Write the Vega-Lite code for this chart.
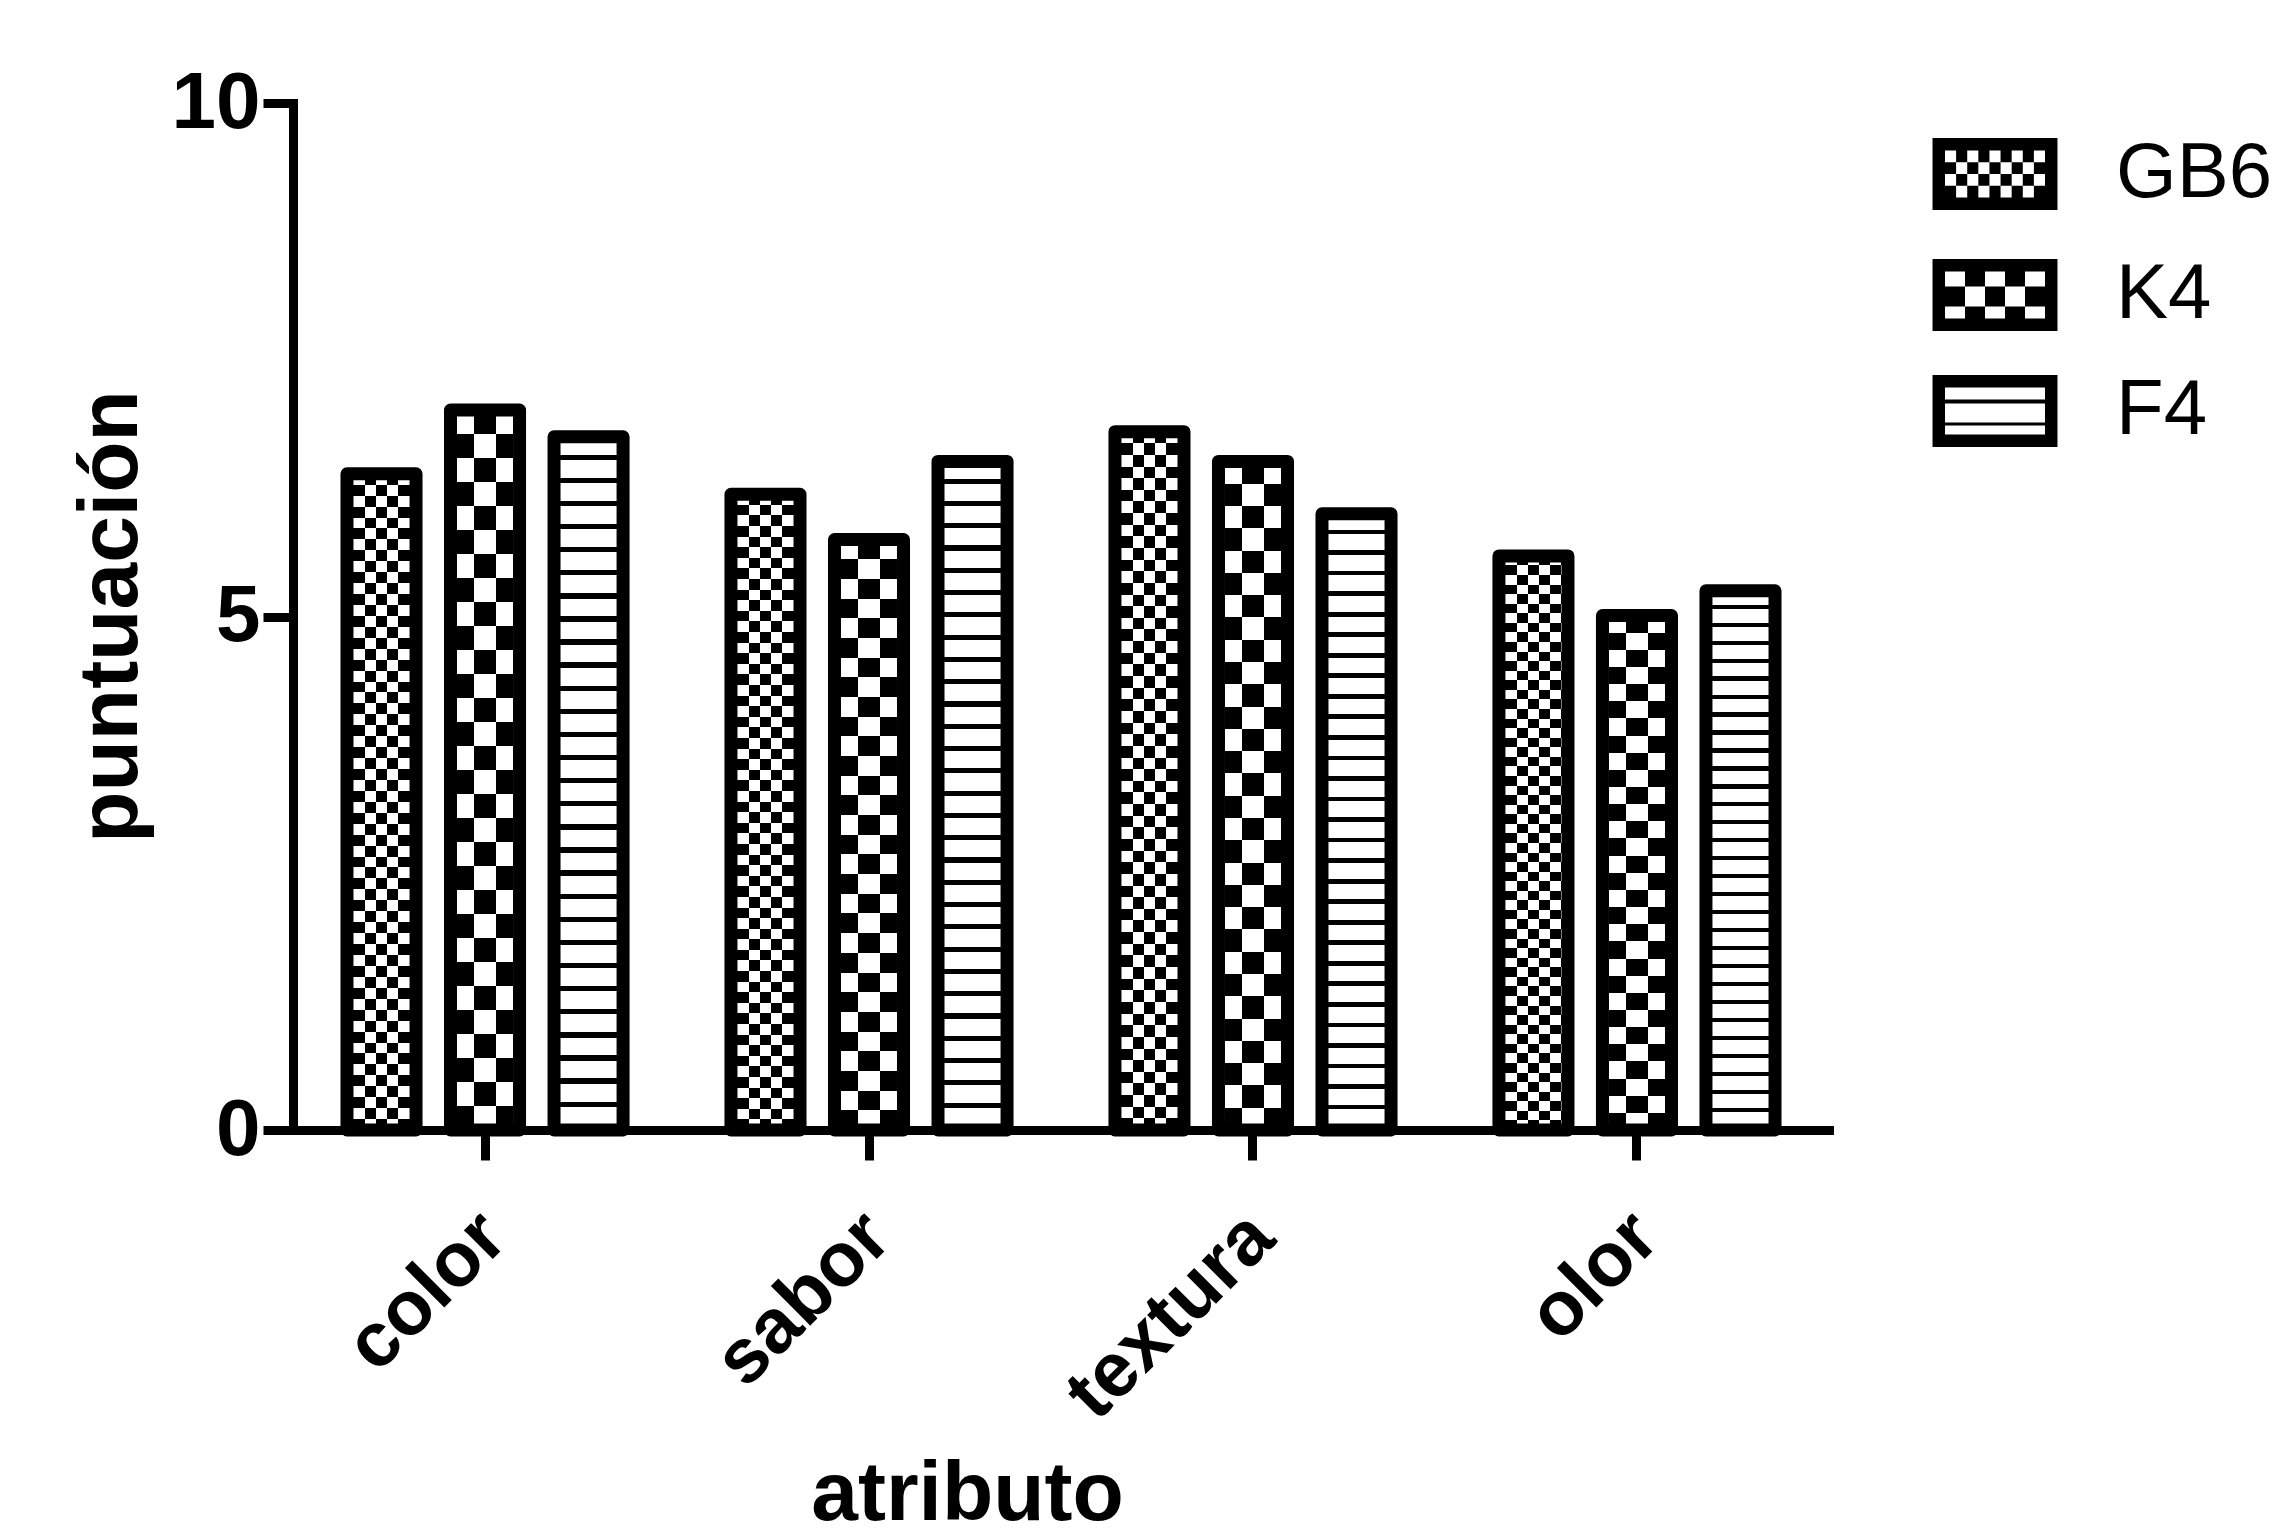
{
"$schema": "https://vega.github.io/schema/vega-lite/v6.json",
"width": 1536,
"height": 1027,
"autosize": {"type": "none"},
"padding": {"left": 293, "top": 103, "right": 451, "bottom": 406},
"background": "#ffffff",
"config": {"view": {"stroke": null}, "font": "Liberation Sans"},
"data": {"values": [
{"atributo":"color","serie":"GB6","puntuacion":6.39},{"atributo":"color","serie":"K4","puntuacion":7.01},{"atributo":"color","serie":"F4","puntuacion":6.75},
{"atributo":"sabor","serie":"GB6","puntuacion":6.19},{"atributo":"sabor","serie":"K4","puntuacion":5.75},{"atributo":"sabor","serie":"F4","puntuacion":6.51},
{"atributo":"textura","serie":"GB6","puntuacion":6.80},{"atributo":"textura","serie":"K4","puntuacion":6.51},{"atributo":"textura","serie":"F4","puntuacion":6.00},
{"atributo":"olor","serie":"GB6","puntuacion":5.59},{"atributo":"olor","serie":"K4","puntuacion":5.01},{"atributo":"olor","serie":"F4","puntuacion":5.25}
]},
"encoding": {
"x": {"field": "atributo", "type": "nominal", "sort": ["color","sabor","textura","olor"],
 "scale": {"paddingInner": 0.281, "paddingOuter": 0.1406},
 "axis": {"title": "atributo", "labelAngle": -45, "labelAlign": "right", "labelBaseline": "top", "labelFont": "Liberation Sans", "labelFontWeight": "bold", "labelFontSize": 77, "labelColor": "#000", "labelPadding": 38, "labelOffset": -18, "labelLimit": 0, "labelOverlap": false,
  "domainColor": "#000", "domainWidth": 9, "domainCap": "square", "tickColor": "#000", "tickWidth": 9, "tickSize": 30, "grid": false, "zindex": 1,
  "titleFont": "Liberation Sans", "titleFontWeight": "bold", "titleFontSize": 84, "titleColor": "#000", "titleX": 674, "titleY": 389, "titleAlign": "center", "titleBaseline": "alphabetic", "titleLimit": 0}},
"xOffset": {"field": "serie", "type": "nominal", "sort": ["GB6","K4","F4"], "scale": {"paddingInner": 0.333, "paddingOuter": 0}},
"y": {"field": "puntuacion", "type": "quantitative", "scale": {"domain": [0,10], "nice": false},
 "axis": {"title": "puntuación", "values": [0,5,10], "labelFont": "Liberation Sans", "labelFontWeight": "bold", "labelFontSize": 80, "labelColor": "#000", "labelPadding": 3,
  "domainColor": "#000", "domainWidth": 9, "domainCap": "square", "tickColor": "#000", "tickWidth": 9, "tickSize": 30, "grid": false, "zindex": 1,
  "titleFont": "Liberation Sans", "titleFontWeight": "bold", "titleFontSize": 84, "titleColor": "#000", "titleAngle": 270, "titleX": -157, "titleY": 513, "titleAlign": "center", "titleBaseline": "alphabetic", "titleLimit": 0}}
},
"layer": [
{"mark": {"type": "bar", "fill": "#000", "strokeWidth": 0},
 "encoding": {
  "stroke": {"field": "serie", "type": "nominal", "scale": {"domain": ["GB6","K4","F4"], "range": ["#000","#000","#000"]},
   "legend": {"title": null, "values": ["GB6"], "orient": "none", "legendX": 1647, "legendY": 16, "padding": 0,
    "symbolType": "M-1.136,-0.655H1.136V0.655H-1.136Z M-0.909,-0.427V0.427H0.909V-0.427Z M-0.707,-0.427h0.202v0.2135h-0.202z M-0.303,-0.427h0.202v0.2135h-0.202z M0.101,-0.427h0.202v0.2135h-0.202z M0.505,-0.427h0.202v0.2135h-0.202z M-0.909,-0.2135h0.202v0.2135h-0.202z M-0.505,-0.2135h0.202v0.2135h-0.202z M-0.101,-0.2135h0.202v0.2135h-0.202z M0.303,-0.2135h0.202v0.2135h-0.202z M0.707,-0.2135h0.202v0.2135h-0.202z M-0.707,0h0.202v0.2135h-0.202z M-0.303,0h0.202v0.2135h-0.202z M0.101,0h0.202v0.2135h-0.202z M0.505,0h0.202v0.2135h-0.202z M-0.909,0.2135h0.202v0.2135h-0.202z M-0.505,0.2135h0.202v0.2135h-0.202z M-0.101,0.2135h0.202v0.2135h-0.202z M0.303,0.2135h0.202v0.2135h-0.202z M0.707,0.2135h0.202v0.2135h-0.202z",
    "symbolSize": 12100, "symbolStrokeWidth": 0, "symbolFillColor": "#000",
    "labelFont": "Liberation Sans", "labelFontSize": 78, "labelColor": "#000", "labelOffset": 66, "labelLimit": 400, "labelBaseline": "middle"}},
  "strokeDash": {"field": "serie", "type": "nominal", "scale": {"domain": ["K4","F4","GB6"], "range": [[1,0],[1,0],[1,0]]},
   "legend": {"title": null, "values": ["K4"], "orient": "none", "legendX": 1647, "legendY": 137, "padding": 0,
    "symbolType": "M-1.136,-0.655H1.136V0.655H-1.136Z M-0.909,-0.427V0.427H0.909V-0.427Z M-0.5454,-0.427h0.3636v0.273h-0.3636z M0.1818,-0.427h0.3636v0.273h-0.3636z M-0.909,-0.154h0.3636v0.364h-0.3636z M-0.1818,-0.154h0.3636v0.364h-0.3636z M0.5454,-0.154h0.3636v0.364h-0.3636z M-0.5454,0.21h0.3636v0.217h-0.3636z M0.1818,0.21h0.3636v0.217h-0.3636z",
    "symbolSize": 12100, "symbolStrokeWidth": 0, "symbolFillColor": "#000",
    "labelFont": "Liberation Sans", "labelFontSize": 78, "labelColor": "#000", "labelOffset": 66, "labelLimit": 400, "labelBaseline": "middle"}},
  "opacity": {"field": "serie", "type": "nominal", "scale": {"domain": ["F4","GB6","K4"], "range": [1,1]},
   "legend": {"title": null, "values": ["F4"], "orient": "none", "legendX": 1647, "legendY": 253, "padding": 0,
    "symbolType": "M-1.136,-0.655H1.136V0.655H-1.136Z M-0.909,-0.427V0.427H0.909V-0.427Z M-0.909,-0.209H0.909V-0.136H-0.909Z M-0.909,0.209H0.909V0.264H-0.909Z",
    "symbolSize": 12100, "symbolStrokeWidth": 0, "symbolFillColor": "#000",
    "labelFont": "Liberation Sans", "labelFontSize": 78, "labelColor": "#000", "labelOffset": 66, "labelLimit": 400, "labelBaseline": "middle"}}
 }},
{"mark": {"type": "bar", "strokeWidth": 0},
 "encoding": {
  "fill": {"condition": [
   {"test": "datum.serie === 'GB6'", "value": {"gradient":"linear","x1":0,"y1":0,"x2":1,"y2":0,"stops":[{"offset":0,"color":"#000"},{"offset":0.094,"color":"#000"},{"offset":0.094,"color":"#fff"},{"offset":0.256,"color":"#fff"},{"offset":0.256,"color":"#000"},{"offset":0.419,"color":"#000"},{"offset":0.419,"color":"#fff"},{"offset":0.581,"color":"#fff"},{"offset":0.581,"color":"#000"},{"offset":0.744,"color":"#000"},{"offset":0.744,"color":"#fff"},{"offset":0.906,"color":"#fff"},{"offset":0.906,"color":"#000"},{"offset":1,"color":"#000"}]}},
   {"test": "datum.serie === 'K4'", "value": {"gradient":"linear","x1":0,"y1":0,"x2":1,"y2":0,"stops":[{"offset":0,"color":"#000"},{"offset":0.094,"color":"#000"},{"offset":0.094,"color":"#fff"},{"offset":0.34,"color":"#fff"},{"offset":0.34,"color":"#000"},{"offset":0.66,"color":"#000"},{"offset":0.66,"color":"#fff"},{"offset":0.906,"color":"#fff"},{"offset":0.906,"color":"#000"},{"offset":1,"color":"#000"}]}}
  ],
  "value": {"gradient":"linear","x1":0,"y1":0,"x2":0,"y2":1,"stops":[
{"offset":0,"color":"#fff"},{"offset":0.0256,"color":"#fff"},{"offset":0.0256,"color":"#000"},{"offset":0.0333,"color":"#000"},
{"offset":0.0333,"color":"#fff"},{"offset":0.0589,"color":"#fff"},{"offset":0.0589,"color":"#000"},{"offset":0.0667,"color":"#000"},
{"offset":0.0667,"color":"#fff"},{"offset":0.0923,"color":"#fff"},{"offset":0.0923,"color":"#000"},{"offset":0.1,"color":"#000"},
{"offset":0.1,"color":"#fff"},{"offset":0.1256,"color":"#fff"},{"offset":0.1256,"color":"#000"},{"offset":0.1333,"color":"#000"},
{"offset":0.1333,"color":"#fff"},{"offset":0.1589,"color":"#fff"},{"offset":0.1589,"color":"#000"},{"offset":0.1667,"color":"#000"},
{"offset":0.1667,"color":"#fff"},{"offset":0.1923,"color":"#fff"},{"offset":0.1923,"color":"#000"},{"offset":0.2,"color":"#000"},
{"offset":0.2,"color":"#fff"},{"offset":0.2256,"color":"#fff"},{"offset":0.2256,"color":"#000"},{"offset":0.2333,"color":"#000"},
{"offset":0.2333,"color":"#fff"},{"offset":0.2589,"color":"#fff"},{"offset":0.2589,"color":"#000"},{"offset":0.2667,"color":"#000"},
{"offset":0.2667,"color":"#fff"},{"offset":0.2923,"color":"#fff"},{"offset":0.2923,"color":"#000"},{"offset":0.3,"color":"#000"},
{"offset":0.3,"color":"#fff"},{"offset":0.3256,"color":"#fff"},{"offset":0.3256,"color":"#000"},{"offset":0.3333,"color":"#000"},
{"offset":0.3333,"color":"#fff"},{"offset":0.3589,"color":"#fff"},{"offset":0.3589,"color":"#000"},{"offset":0.3667,"color":"#000"},
{"offset":0.3667,"color":"#fff"},{"offset":0.3923,"color":"#fff"},{"offset":0.3923,"color":"#000"},{"offset":0.4,"color":"#000"},
{"offset":0.4,"color":"#fff"},{"offset":0.4256,"color":"#fff"},{"offset":0.4256,"color":"#000"},{"offset":0.4333,"color":"#000"},
{"offset":0.4333,"color":"#fff"},{"offset":0.4589,"color":"#fff"},{"offset":0.4589,"color":"#000"},{"offset":0.4667,"color":"#000"},
{"offset":0.4667,"color":"#fff"},{"offset":0.4923,"color":"#fff"},{"offset":0.4923,"color":"#000"},{"offset":0.5,"color":"#000"},
{"offset":0.5,"color":"#fff"},{"offset":0.5256,"color":"#fff"},{"offset":0.5256,"color":"#000"},{"offset":0.5333,"color":"#000"},
{"offset":0.5333,"color":"#fff"},{"offset":0.5589,"color":"#fff"},{"offset":0.5589,"color":"#000"},{"offset":0.5667,"color":"#000"},
{"offset":0.5667,"color":"#fff"},{"offset":0.5923,"color":"#fff"},{"offset":0.5923,"color":"#000"},{"offset":0.6,"color":"#000"},
{"offset":0.6,"color":"#fff"},{"offset":0.6256,"color":"#fff"},{"offset":0.6256,"color":"#000"},{"offset":0.6333,"color":"#000"},
{"offset":0.6333,"color":"#fff"},{"offset":0.6589,"color":"#fff"},{"offset":0.6589,"color":"#000"},{"offset":0.6667,"color":"#000"},
{"offset":0.6667,"color":"#fff"},{"offset":0.6923,"color":"#fff"},{"offset":0.6923,"color":"#000"},{"offset":0.7,"color":"#000"},
{"offset":0.7,"color":"#fff"},{"offset":0.7256,"color":"#fff"},{"offset":0.7256,"color":"#000"},{"offset":0.7333,"color":"#000"},
{"offset":0.7333,"color":"#fff"},{"offset":0.7589,"color":"#fff"},{"offset":0.7589,"color":"#000"},{"offset":0.7667,"color":"#000"},
{"offset":0.7667,"color":"#fff"},{"offset":0.7923,"color":"#fff"},{"offset":0.7923,"color":"#000"},{"offset":0.8,"color":"#000"},
{"offset":0.8,"color":"#fff"},{"offset":0.8256,"color":"#fff"},{"offset":0.8256,"color":"#000"},{"offset":0.8333,"color":"#000"},
{"offset":0.8333,"color":"#fff"},{"offset":0.8589,"color":"#fff"},{"offset":0.8589,"color":"#000"},{"offset":0.8667,"color":"#000"},
{"offset":0.8667,"color":"#fff"},{"offset":0.8923,"color":"#fff"},{"offset":0.8923,"color":"#000"},{"offset":0.9,"color":"#000"},
{"offset":0.9,"color":"#fff"},{"offset":0.9256,"color":"#fff"},{"offset":0.9256,"color":"#000"},{"offset":0.9333,"color":"#000"},
{"offset":0.9333,"color":"#fff"},{"offset":0.9589,"color":"#fff"},{"offset":0.9589,"color":"#000"},{"offset":0.9667,"color":"#000"},
{"offset":0.9667,"color":"#fff"},{"offset":0.9923,"color":"#fff"},{"offset":0.9923,"color":"#000"},{"offset":1,"color":"#000"}]}}
 }},
{"mark": {"type": "bar", "strokeWidth": 0, "blend": "difference"},
 "encoding": {
  "fill": {"condition": [
   {"test": "datum.serie === 'GB6'", "value": {"gradient":"linear","x1":0,"y1":0,"x2":0,"y2":1,"stops":[
{"offset":0,"color":"#000"},{"offset":0.0167,"color":"#000"},{"offset":0.0167,"color":"#fff"},{"offset":0.0333,"color":"#fff"},
{"offset":0.0333,"color":"#000"},{"offset":0.05,"color":"#000"},{"offset":0.05,"color":"#fff"},{"offset":0.0667,"color":"#fff"},
{"offset":0.0667,"color":"#000"},{"offset":0.0833,"color":"#000"},{"offset":0.0833,"color":"#fff"},{"offset":0.1,"color":"#fff"},
{"offset":0.1,"color":"#000"},{"offset":0.1167,"color":"#000"},{"offset":0.1167,"color":"#fff"},{"offset":0.1333,"color":"#fff"},
{"offset":0.1333,"color":"#000"},{"offset":0.15,"color":"#000"},{"offset":0.15,"color":"#fff"},{"offset":0.1667,"color":"#fff"},
{"offset":0.1667,"color":"#000"},{"offset":0.1833,"color":"#000"},{"offset":0.1833,"color":"#fff"},{"offset":0.2,"color":"#fff"},
{"offset":0.2,"color":"#000"},{"offset":0.2167,"color":"#000"},{"offset":0.2167,"color":"#fff"},{"offset":0.2333,"color":"#fff"},
{"offset":0.2333,"color":"#000"},{"offset":0.25,"color":"#000"},{"offset":0.25,"color":"#fff"},{"offset":0.2667,"color":"#fff"},
{"offset":0.2667,"color":"#000"},{"offset":0.2833,"color":"#000"},{"offset":0.2833,"color":"#fff"},{"offset":0.3,"color":"#fff"},
{"offset":0.3,"color":"#000"},{"offset":0.3167,"color":"#000"},{"offset":0.3167,"color":"#fff"},{"offset":0.3333,"color":"#fff"},
{"offset":0.3333,"color":"#000"},{"offset":0.35,"color":"#000"},{"offset":0.35,"color":"#fff"},{"offset":0.3667,"color":"#fff"},
{"offset":0.3667,"color":"#000"},{"offset":0.3833,"color":"#000"},{"offset":0.3833,"color":"#fff"},{"offset":0.4,"color":"#fff"},
{"offset":0.4,"color":"#000"},{"offset":0.4167,"color":"#000"},{"offset":0.4167,"color":"#fff"},{"offset":0.4333,"color":"#fff"},
{"offset":0.4333,"color":"#000"},{"offset":0.45,"color":"#000"},{"offset":0.45,"color":"#fff"},{"offset":0.4667,"color":"#fff"},
{"offset":0.4667,"color":"#000"},{"offset":0.4833,"color":"#000"},{"offset":0.4833,"color":"#fff"},{"offset":0.5,"color":"#fff"},
{"offset":0.5,"color":"#000"},{"offset":0.5167,"color":"#000"},{"offset":0.5167,"color":"#fff"},{"offset":0.5333,"color":"#fff"},
{"offset":0.5333,"color":"#000"},{"offset":0.55,"color":"#000"},{"offset":0.55,"color":"#fff"},{"offset":0.5667,"color":"#fff"},
{"offset":0.5667,"color":"#000"},{"offset":0.5833,"color":"#000"},{"offset":0.5833,"color":"#fff"},{"offset":0.6,"color":"#fff"},
{"offset":0.6,"color":"#000"},{"offset":0.6167,"color":"#000"},{"offset":0.6167,"color":"#fff"},{"offset":0.6333,"color":"#fff"},
{"offset":0.6333,"color":"#000"},{"offset":0.65,"color":"#000"},{"offset":0.65,"color":"#fff"},{"offset":0.6667,"color":"#fff"},
{"offset":0.6667,"color":"#000"},{"offset":0.6833,"color":"#000"},{"offset":0.6833,"color":"#fff"},{"offset":0.7,"color":"#fff"},
{"offset":0.7,"color":"#000"},{"offset":0.7167,"color":"#000"},{"offset":0.7167,"color":"#fff"},{"offset":0.7333,"color":"#fff"},
{"offset":0.7333,"color":"#000"},{"offset":0.75,"color":"#000"},{"offset":0.75,"color":"#fff"},{"offset":0.7667,"color":"#fff"},
{"offset":0.7667,"color":"#000"},{"offset":0.7833,"color":"#000"},{"offset":0.7833,"color":"#fff"},{"offset":0.8,"color":"#fff"},
{"offset":0.8,"color":"#000"},{"offset":0.8167,"color":"#000"},{"offset":0.8167,"color":"#fff"},{"offset":0.8333,"color":"#fff"},
{"offset":0.8333,"color":"#000"},{"offset":0.85,"color":"#000"},{"offset":0.85,"color":"#fff"},{"offset":0.8667,"color":"#fff"},
{"offset":0.8667,"color":"#000"},{"offset":0.8833,"color":"#000"},{"offset":0.8833,"color":"#fff"},{"offset":0.9,"color":"#fff"},
{"offset":0.9,"color":"#000"},{"offset":0.9167,"color":"#000"},{"offset":0.9167,"color":"#fff"},{"offset":0.9333,"color":"#fff"},
{"offset":0.9333,"color":"#000"},{"offset":0.95,"color":"#000"},{"offset":0.95,"color":"#fff"},{"offset":0.9667,"color":"#fff"},
{"offset":0.9667,"color":"#000"},{"offset":0.9833,"color":"#000"},{"offset":0.9833,"color":"#fff"},{"offset":1,"color":"#fff"}]}},
   {"test": "datum.serie === 'K4'", "value": {"gradient":"linear","x1":0,"y1":0,"x2":0,"y2":1,"stops":[
{"offset":0,"color":"#000"},{"offset":0.0333,"color":"#000"},{"offset":0.0333,"color":"#fff"},{"offset":0.0667,"color":"#fff"},
{"offset":0.0667,"color":"#000"},{"offset":0.1,"color":"#000"},{"offset":0.1,"color":"#fff"},{"offset":0.1333,"color":"#fff"},
{"offset":0.1333,"color":"#000"},{"offset":0.1667,"color":"#000"},{"offset":0.1667,"color":"#fff"},{"offset":0.2,"color":"#fff"},
{"offset":0.2,"color":"#000"},{"offset":0.2333,"color":"#000"},{"offset":0.2333,"color":"#fff"},{"offset":0.2667,"color":"#fff"},
{"offset":0.2667,"color":"#000"},{"offset":0.3,"color":"#000"},{"offset":0.3,"color":"#fff"},{"offset":0.3333,"color":"#fff"},
{"offset":0.3333,"color":"#000"},{"offset":0.3667,"color":"#000"},{"offset":0.3667,"color":"#fff"},{"offset":0.4,"color":"#fff"},
{"offset":0.4,"color":"#000"},{"offset":0.4333,"color":"#000"},{"offset":0.4333,"color":"#fff"},{"offset":0.4667,"color":"#fff"},
{"offset":0.4667,"color":"#000"},{"offset":0.5,"color":"#000"},{"offset":0.5,"color":"#fff"},{"offset":0.5333,"color":"#fff"},
{"offset":0.5333,"color":"#000"},{"offset":0.5667,"color":"#000"},{"offset":0.5667,"color":"#fff"},{"offset":0.6,"color":"#fff"},
{"offset":0.6,"color":"#000"},{"offset":0.6333,"color":"#000"},{"offset":0.6333,"color":"#fff"},{"offset":0.6667,"color":"#fff"},
{"offset":0.6667,"color":"#000"},{"offset":0.7,"color":"#000"},{"offset":0.7,"color":"#fff"},{"offset":0.7333,"color":"#fff"},
{"offset":0.7333,"color":"#000"},{"offset":0.7667,"color":"#000"},{"offset":0.7667,"color":"#fff"},{"offset":0.8,"color":"#fff"},
{"offset":0.8,"color":"#000"},{"offset":0.8333,"color":"#000"},{"offset":0.8333,"color":"#fff"},{"offset":0.8667,"color":"#fff"},
{"offset":0.8667,"color":"#000"},{"offset":0.9,"color":"#000"},{"offset":0.9,"color":"#fff"},{"offset":0.9333,"color":"#fff"},
{"offset":0.9333,"color":"#000"},{"offset":0.9667,"color":"#000"},{"offset":0.9667,"color":"#fff"},{"offset":1,"color":"#fff"}]}}
  ],
  "value": "#000"}
 }},
{"mark": {"type": "bar", "fill": "transparent", "stroke": "#000", "strokeWidth": 13, "strokeJoin": "round"}}
]
}
